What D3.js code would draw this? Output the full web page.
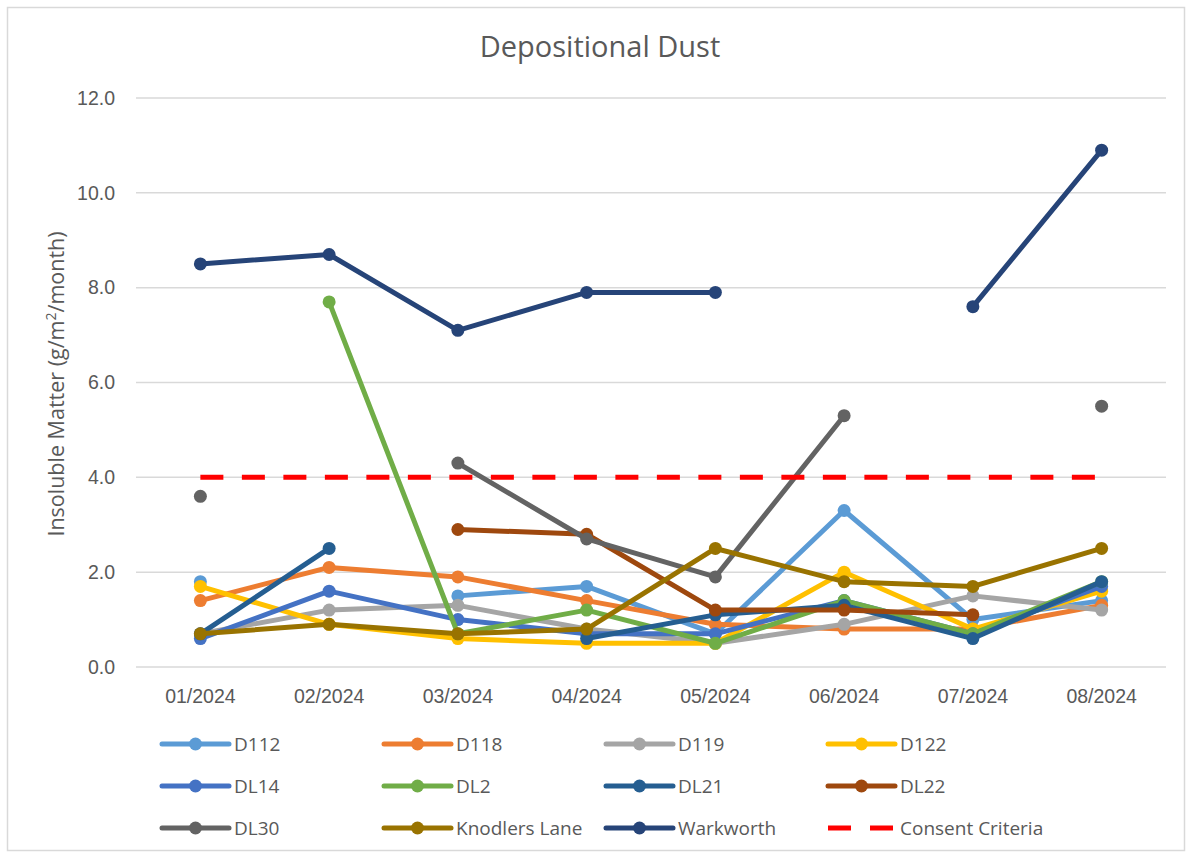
<!DOCTYPE html>
<html>
<head>
<meta charset="utf-8">
<script src="https://cdn.jsdelivr.net/npm/d3@7"></script>
<style>
  html, body { margin: 0; padding: 0; background: #fff; }
  svg { display: block; font-family: "Open Sans", "Liberation Sans", sans-serif; }
</style>
</head>
<body>
<div id="chart"></div>
<script>
// Depositional Dust — monthly insoluble matter per gauge
const months = ['01/2024', '02/2024', '03/2024', '04/2024', '05/2024', '06/2024', '07/2024', '08/2024'];
const yTicks = [0, 2, 4, 6, 8, 10, 12];

const seriesNames = ['D112', 'D118', 'D119', 'D122', 'DL14', 'DL2', 'DL21', 'DL22', 'DL30', 'Knodlers Lane', 'Warkworth'];
const seriesColors = ['#5B9BD5', '#ED7D31', '#A5A5A5', '#FFC000', '#4472C4', '#70AD47', '#255E91', '#9E480E', '#636363', '#997300', '#264478'];

const d112 = [1.8, null, 1.5, 1.7, 0.7, 3.3, 1.0, 1.4];
const d118 = [1.4, 2.1, 1.9, 1.4, 0.9, 0.8, 0.8, 1.3];
const d119 = [0.7, 1.2, 1.3, 0.8, 0.5, 0.9, 1.5, 1.2];
const d122 = [1.7, 0.9, 0.6, 0.5, 0.5, 2.0, 0.8, 1.6];
const dl14 = [0.6, 1.6, 1.0, 0.7, 0.7, 1.4, 0.7, 1.7];
const dl2 = [null, 7.7, 0.7, 1.2, 0.5, 1.4, 0.7, 1.8];
const dl21 = [0.7, 2.5, null, 0.6, 1.1, 1.3, 0.6, 1.8];
const dl22 = [null, null, 2.9, 2.8, 1.2, 1.2, 1.1, null];
const dl30 = [3.6, null, 4.3, 2.7, 1.9, 5.3, null, 5.5];
const knodlers = [0.7, 0.9, 0.7, 0.8, 2.5, 1.8, 1.7, 2.5];
const warkworth = [8.5, 8.7, 7.1, 7.9, 7.9, null, 7.6, 10.9];
const consent = [4, 4, 4, 4, 4, 4, 4, 4];

const seriesValues = [d112, d118, d119, d122, dl14, dl2, dl21, dl22, dl30, knodlers, warkworth];

const W = 1192, H = 856;
const textColor = '#595959';
const gridColor = '#D9D9D9';

const svg = d3.select('#chart').append('svg')
  .attr('width', W)
  .attr('height', H);

// chart area border
svg.append('rect')
  .attr('x', 7.5).attr('y', 7.5)
  .attr('width', W - 15).attr('height', H - 13)
  .attr('fill', '#fff')
  .attr('stroke', gridColor)
  .attr('stroke-width', 1.5);

const x = d3.scaleBand().domain(months).range([136, 1166]);
const y = d3.scaleLinear().domain([0, 12]).range([667, 98]);

// Title
svg.append('text')
  .attr('x', 600).attr('y', 57)
  .attr('text-anchor', 'middle')
  .attr('font-size', 29)
  .attr('fill', textColor)
  .text('Depositional Dust');

// Gridlines
svg.append('g')
  .selectAll('line')
  .data(yTicks)
  .join('line')
  .attr('x1', 136).attr('x2', 1166)
  .attr('y1', d => y(d)).attr('y2', d => y(d))
  .attr('stroke', gridColor)
  .attr('stroke-width', 1.5);

// Y axis
const yAxis = svg.append('g')
  .attr('transform', 'translate(136,0)')
  .call(d3.axisLeft(y).tickValues(yTicks).tickFormat(d3.format('.1f')).tickSize(0).tickPadding(21));
yAxis.select('.domain').remove();
yAxis.selectAll('text').attr('font-size', 19.5).attr('fill', textColor).attr('font-family', 'inherit');

// X axis
const xAxis = svg.append('g')
  .attr('transform', 'translate(0,667)')
  .call(d3.axisBottom(x).tickSize(0).tickPadding(22));
xAxis.select('.domain').remove();
xAxis.selectAll('text').attr('font-size', 19.5).attr('fill', textColor).attr('font-family', 'inherit');

// Y axis title
const yTitle = svg.append('text')
  .attr('transform', 'translate(64,384) rotate(-90)')
  .attr('text-anchor', 'middle')
  .attr('font-size', 21.5)
  .attr('fill', textColor);
yTitle.append('tspan').text('Insoluble Matter (g/m');
yTitle.append('tspan').attr('font-size', 14).attr('dy', -8).text('2');
yTitle.append('tspan').attr('dy', 8).text('/month)');

const cx = d => x(d) + x.bandwidth() / 2;

const line = d3.line()
  .defined(d => d.v != null)
  .x(d => cx(d.m))
  .y(d => y(d.v));

// Series
seriesNames.forEach((name, i) => {
  const pts = months.map((m, j) => ({ m, v: seriesValues[i][j] }));
  const g = svg.append('g').attr('class', 'series');
  g.append('path')
    .datum(pts)
    .attr('d', line)
    .attr('fill', 'none')
    .attr('stroke', seriesColors[i])
    .attr('stroke-width', 5)
    .attr('stroke-linejoin', 'round')
    .attr('stroke-linecap', 'round');
  g.selectAll('circle')
    .data(pts.filter(d => d.v != null))
    .join('circle')
    .attr('cx', d => cx(d.m))
    .attr('cy', d => y(d.v))
    .attr('r', 6.5)
    .attr('fill', seriesColors[i]);
});

// Consent criteria
svg.append('path')
  .datum(months.map((m, j) => ({ m, v: consent[j] })))
  .attr('d', line)
  .attr('fill', 'none')
  .attr('stroke', '#FF0000')
  .attr('stroke-width', 5)
  .attr('stroke-dasharray', '23 18.5');

// Legend
const legendItems = seriesNames.map((n, i) => ({ name: n, color: seriesColors[i], dash: false }))
  .concat([{ name: 'Consent Criteria', color: '#FF0000', dash: true }]);

const legend = svg.append('g')
  .selectAll('g')
  .data(legendItems)
  .join('g')
  .attr('transform', (d, i) => `translate(${162 + (i % 4) * 222},${744 + Math.floor(i / 4) * 42})`);

legend.append('line')
  .attr('x1', 0).attr('x2', 67)
  .attr('y1', 0).attr('y2', 0)
  .attr('stroke', d => d.color)
  .attr('stroke-width', 5)
  .attr('stroke-linecap', d => d.dash ? 'butt' : 'round')
  .attr('stroke-dasharray', d => d.dash ? '23 19' : null);

legend.filter(d => !d.dash).append('circle')
  .attr('cx', 33.5).attr('cy', 0).attr('r', 6.5)
  .attr('fill', d => d.color);

legend.append('text')
  .attr('x', 72).attr('y', 0)
  .attr('dy', '0.35em')
  .attr('font-size', 19)
  .attr('fill', textColor)
  .text(d => d.name);
</script>
</body>
</html>
